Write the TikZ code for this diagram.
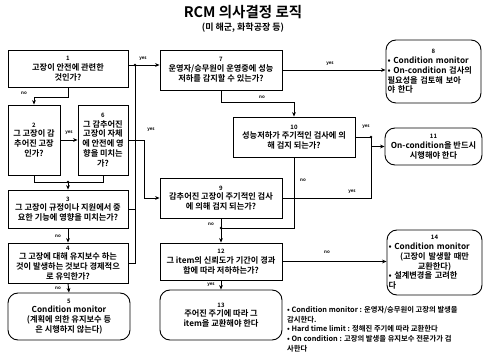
\documentclass[tikz,border=0pt]{standalone}
\usepackage{fontspec}
\setmainfont{Noto Sans CJK KR}[BoldFont={* Bold}]
\usetikzlibrary{arrows.meta}
\newcommand{\nb}[1]{{\fontsize{6}{7}\selectfont #1}}
\begin{document}
\begin{tikzpicture}[x=1pt,y=-1pt,
  box/.style={draw,line width=0.9pt,align=center,inner sep=1.5pt,font=\fontsize{8.2}{9.8}\selectfont\bfseries},
  rbox/.style={box,rounded corners=10pt},
  arr/.style={line width=0.9pt,-{Stealth[length=4.5pt,width=3.8pt]}},
  ln/.style={line width=0.9pt},
  yn/.style={font=\fontsize{4.5}{5}\selectfont\bfseries,inner sep=0.5pt},
  dot/.style={fill,circle,inner sep=0pt,minimum size=2.6pt}]
\useasboundingbox (0,0) rectangle (485,358);
% title
\node[font=\fontsize{14.5}{16}\selectfont\bfseries] (title) at (243,12) {RCM 의사결정 로직};
\node[font=\fontsize{9}{11}\selectfont\bfseries] (sub) at (243,28) {(미 해군, 화학공장 등)};
% boxes
\node[box,minimum width=120pt,minimum height=37pt] (b1) at (68,68.5) {\nb{1}\\고장이 안전에 관련한\\것인가?};
\node[box,minimum width=52pt,minimum height=70pt] (b2) at (34,140) {\nb{2}\\그 고장이 감\\추어진 고장\\인가?};
\node[box,minimum width=50pt,minimum height=70pt] (b6) at (103,140) {\nb{6}\\그 감추어진\\고장이 자체\\에 안전에 영\\향을 미치는\\가?};
\node[box,minimum width=120pt,minimum height=38pt] (b3) at (68,209) {\nb{3}\\그 고장이 규정이나 지원에서 중\\요한 기능에 영향을 미치는가?};
\node[box,minimum width=120pt,minimum height=40pt] (b4) at (68,263) {\nb{4}\\그 고장에 대해 유지보수 하는\\것이 발생하는 것보다 경제적으\\로 유익한가?};
\node[rbox,minimum width=122pt,minimum height=47pt] (b5) at (69,316.5) {\nb{5}\\Condition monitor\\(계획에 의한 유지보수 등\\은 시행하지 않는다)};
\node[box,minimum width=122pt,minimum height=40pt] (b7) at (221,70) {\nb{7}\\운영자/승무원이 운영중에 성능\\저하를 감지할 수 있는가?};
\node[box,minimum width=122pt,minimum height=40pt] (b10) at (294,137) {\nb{10}\\성능저하가 주기적인 검사에 의\\해 검지 되는가?};
\node[box,minimum width=122pt,minimum height=40pt] (b9) at (221,198) {\nb{9}\\감추어진 고장이 주기적인 검사\\에 의해 검지 되는가?};
\node[box,minimum width=122pt,minimum height=37pt] (b12) at (221,261.5) {\nb{12}\\그 item의 신뢰도가 기간이 경과\\함에 따라 저하하는가?};
\node[rbox,minimum width=122pt,minimum height=50pt] (b13) at (221,315) {\nb{13}\\주어진 주기에 따라 그\\item을 교환해야 한다};
\node[rbox,text width=92pt,align=left,minimum height=63pt] (b8) at (433.5,71.5) {\makebox[\linewidth]{\nb{8}}\\• Condition monitor\\• On-condition 검사의\\필요성을 검토해 보아\\야 한다};
\node[rbox,minimum width=97pt,minimum height=37pt] (b11) at (433.5,146.5) {\nb{11}\\On-condition을 반드시\\시행해야 한다};
\node[rbox,text width=92pt,align=left,minimum height=65pt] (b14) at (434.5,262.5) {\makebox[\linewidth]{\nb{14}}\\• Condition monitor\\\makebox[\linewidth]{(고장이 발생할 때만}\\\makebox[\linewidth]{교환한다)}\\• 설계변경을 고려한\\다};
% legend
\node[anchor=north west,align=left,inner sep=0pt,font=\fontsize{7.3}{9.8}\selectfont\bfseries] (leg) at (287,306) {• Condition monitor : 운영자/승무원이 고장의 발생을\\감시한다.\\• Hard time limit : 정해진 주기에 따라 교환한다\\• On condition : 고장의 발생을 유지보수 전문가가 검\\사한다};
% junctions
\coordinate (j1) at (135,65);
\coordinate (j23) at (68,182);
\coordinate (j10) at (371,137);
\coordinate (j12) at (221,228);
% connectors
\draw[arr] (b1.east |- j1) -- (b7.west |- j1);
\draw[ln] (b4.east) -- (b4.east -| j1) -- (j1);
\draw[ln] (b3.east) -- (b3.east -| j1);
\draw[arr] (b1.south) -- ++(0,10) -| (b2.north);
\draw[arr] (b2.east) -- (b6.west);
\draw[arr] (b6.east) -- ++(16,0) |- (b9.west);
\draw[ln] (b2.south) |- (b6.south |- j23) -- (b6.south);
\draw[arr] (j23) -- (b3.north);
\draw[arr] (b3.south) -- (b4.north);
\draw[arr] (b4.south) -- (b5.north);
\draw[arr] (b7.east) -- (b7.east -| b8.west);
\draw[arr] (b7.south) -- ++(0,12) -| (b10.north);
\draw[ln] (b10.east) -- (j10);
\draw[ln] (b9.east) -| (j10);
\draw[arr] (j10 |- b11.west) -- (b11.west);
\draw[ln] (b10.south) |- (j12);
\draw[ln] (b9.south) -- (j12);
\draw[arr] (j12) -- (b12.north);
\draw[arr] (b12.east) -- (b12.east -| b14.west);
\draw[arr] (b12.south) -- (b13.north);
\node[dot] (d1) at (j1) {};
\node[dot] (d2) at (j23) {};
\node[dot] (d3) at (j10) {};
\node[dot] (d4) at (j12) {};
% yes/no labels
\node[yn] (l1) at (143,59) {yes};
\node[yn] (l2) at (24,93) {no};
\node[yn] (l3) at (69,133) {yes};
\node[yn] (l4) at (151,130) {yes};
\node[yn] (l5) at (58,236) {no};
\node[yn] (l6) at (58,288) {no};
\node[yn] (l7) at (330,64) {yes};
\node[yn] (l8) at (262,97) {no};
\node[yn] (l9) at (366,127) {yes};
\node[yn] (l10) at (303,180) {no};
\node[yn] (l11) at (352,192) {yes};
\node[yn] (l12) at (211,224) {no};
\node[yn] (l13) at (327,252) {no};
\node[yn] (l14) at (211,285) {yes};
\end{tikzpicture}
\end{document}
